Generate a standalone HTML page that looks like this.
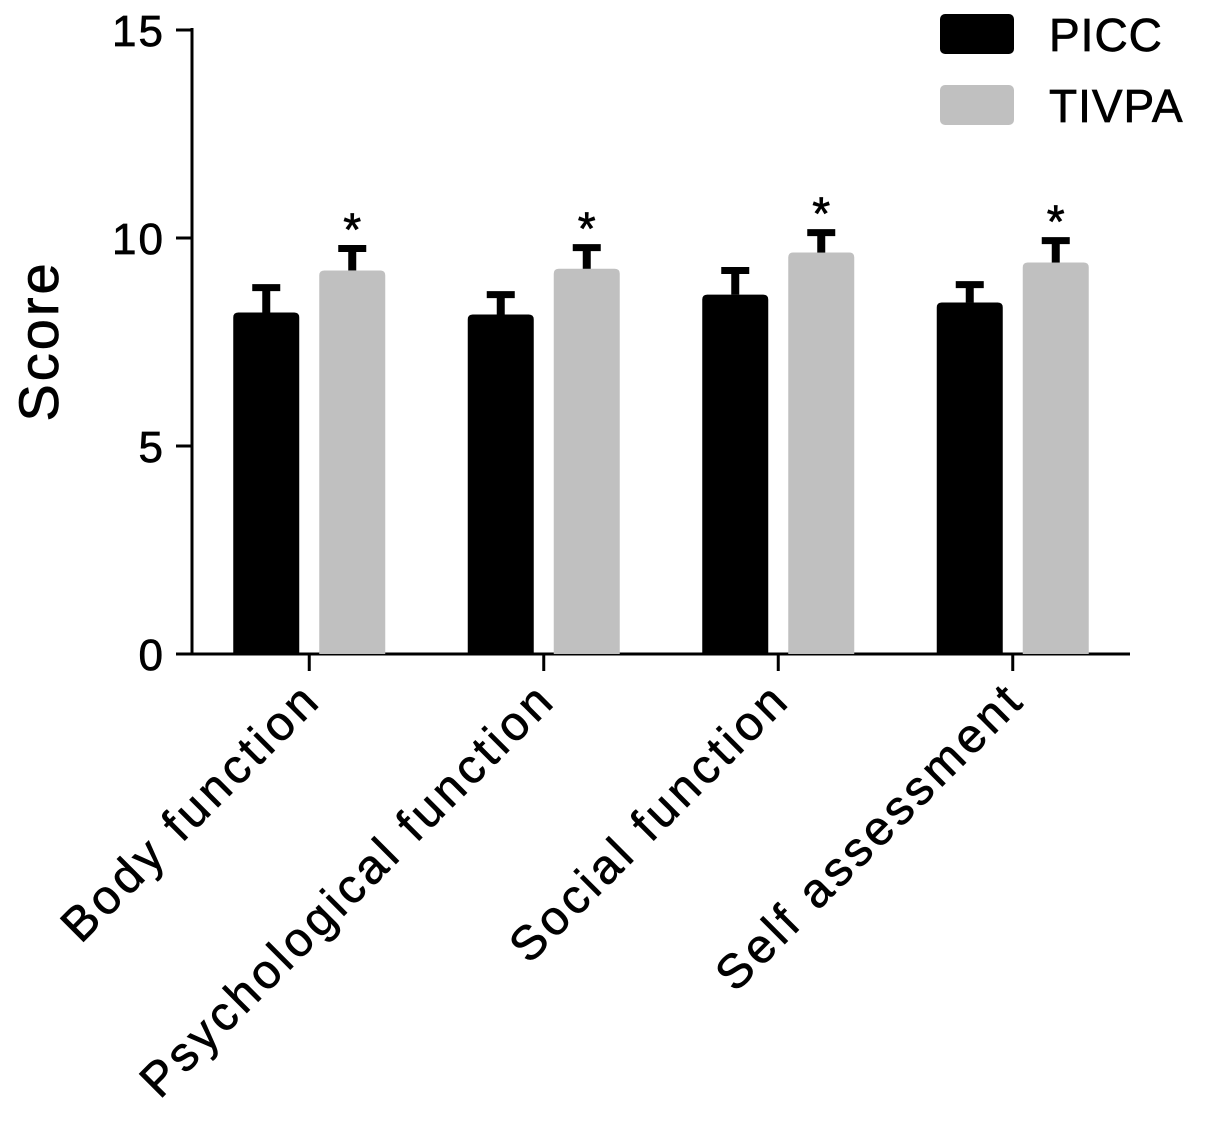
<!DOCTYPE html>
<html><head><meta charset="utf-8"><style>
html,body{margin:0;padding:0;background:#fff;}
svg{display:block;font-family:"Liberation Sans",Arial,sans-serif;}
svg text{stroke:#000;stroke-width:0.7;}
</style></head><body>
<svg id="chart" width="1205" height="1124" viewBox="0 0 1205 1124">
<g id="axes"></g><g id="bars"></g>
<g>
<rect x="940" y="14" width="74" height="40" rx="5" fill="#000"/>
<text x="1049" y="51" font-size="46" letter-spacing="1">PICC</text>
<rect x="940" y="85" width="74" height="40" rx="5" fill="#c0c0c0"/>
<text x="1049" y="122" font-size="46" letter-spacing="1">TIVPA</text>
</g>
<text transform="translate(58,341) rotate(-90)" text-anchor="middle" font-size="56" letter-spacing="3">Score</text>
</svg>
<script>
const categories = ["Body function","Psychological function","Social function","Self assessment"];
const piccMeans = [8.21, 8.16, 8.64, 8.45];
const piccErr = [0.67, 0.55, 0.65, 0.50];
const tivpaMeans = [9.22, 9.26, 9.65, 9.41];
const tivpaErr = [0.60, 0.58, 0.55, 0.60];
const yTicks = [0, 5, 10, 15];

const NS = "http://www.w3.org/2000/svg";
const y0 = 654, yTop = 30, yMax = 15, xL = 192, xR = 1130;
const yScale = v => y0 - (y0 - yTop) * v / yMax;
const groupW = (xR - xL) / categories.length;
const xCenter = i => xL + groupW * (i + 0.5);
function mk(tag, attrs, parent){const e=document.createElementNS(NS,tag);for(const k in attrs)e.setAttribute(k,attrs[k]);parent.appendChild(e);return e;}
const axes = document.getElementById('axes'), bars = document.getElementById('bars');

const ya = mk('line',{x1:xL,y1:yTop-2,x2:xL,y2:y0+1.5,stroke:'#000','stroke-width':3},axes);


const xa = mk('line',{x1:176,y1:y0,x2:xR,y2:y0,stroke:'#000','stroke-width':3},axes);


yTicks.forEach(t=>{
  const y=yScale(t);
  const l=mk('line',{x1:176,y1:y,x2:xL,y2:y,stroke:'#000','stroke-width':3},axes);
  
  
  const tx=mk('text',{x:165,y:y+16,'text-anchor':'end','font-size':44,'letter-spacing':2},axes);
  tx.textContent=t;
  
  
});
categories.forEach((c,i)=>{
  const cx=xCenter(i);
  const tk=mk('line',{x1:cx,y1:y0,x2:cx,y2:y0+17,stroke:'#000','stroke-width':3},axes);
  
  
  const tx=mk('text',{transform:`translate(${cx+14},${y0+48}) rotate(-45)`,'text-anchor':'end','font-size':48,'letter-spacing':4},axes);
  tx.textContent=c;
  
  
  const series=[[piccMeans[i],piccErr[i],'#000',-43,'picc'],[tivpaMeans[i],tivpaErr[i],'#c0c0c0',43,'tivpa']];
  series.forEach(([m,e,col,off,nm])=>{
    const bx=cx+off, top=yScale(m);
    const b=mk('path',{d:`M${bx-33},${y0} L${bx-33},${top+5} Q${bx-33},${top} ${bx-28},${top} L${bx+28},${top} Q${bx+33},${top} ${bx+33},${top+5} L${bx+33},${y0} Z`,fill:col},bars);
    
    
    const et=yScale(m+e);
    const s=mk('line',{x1:bx,y1:top,x2:bx,y2:et,stroke:'#000','stroke-width':8},bars);
    
    
    const cap=mk('line',{x1:bx-14,y1:et+3,x2:bx+14,y2:et+3,stroke:'#000','stroke-width':7},bars);
    
    
    if(nm==='tivpa'){
      const a=mk('text',{x:bx,y:et,'text-anchor':'middle','font-size':46},bars);
      a.textContent='*';
      
      
    }
  });
});
</script>
</body></html>
